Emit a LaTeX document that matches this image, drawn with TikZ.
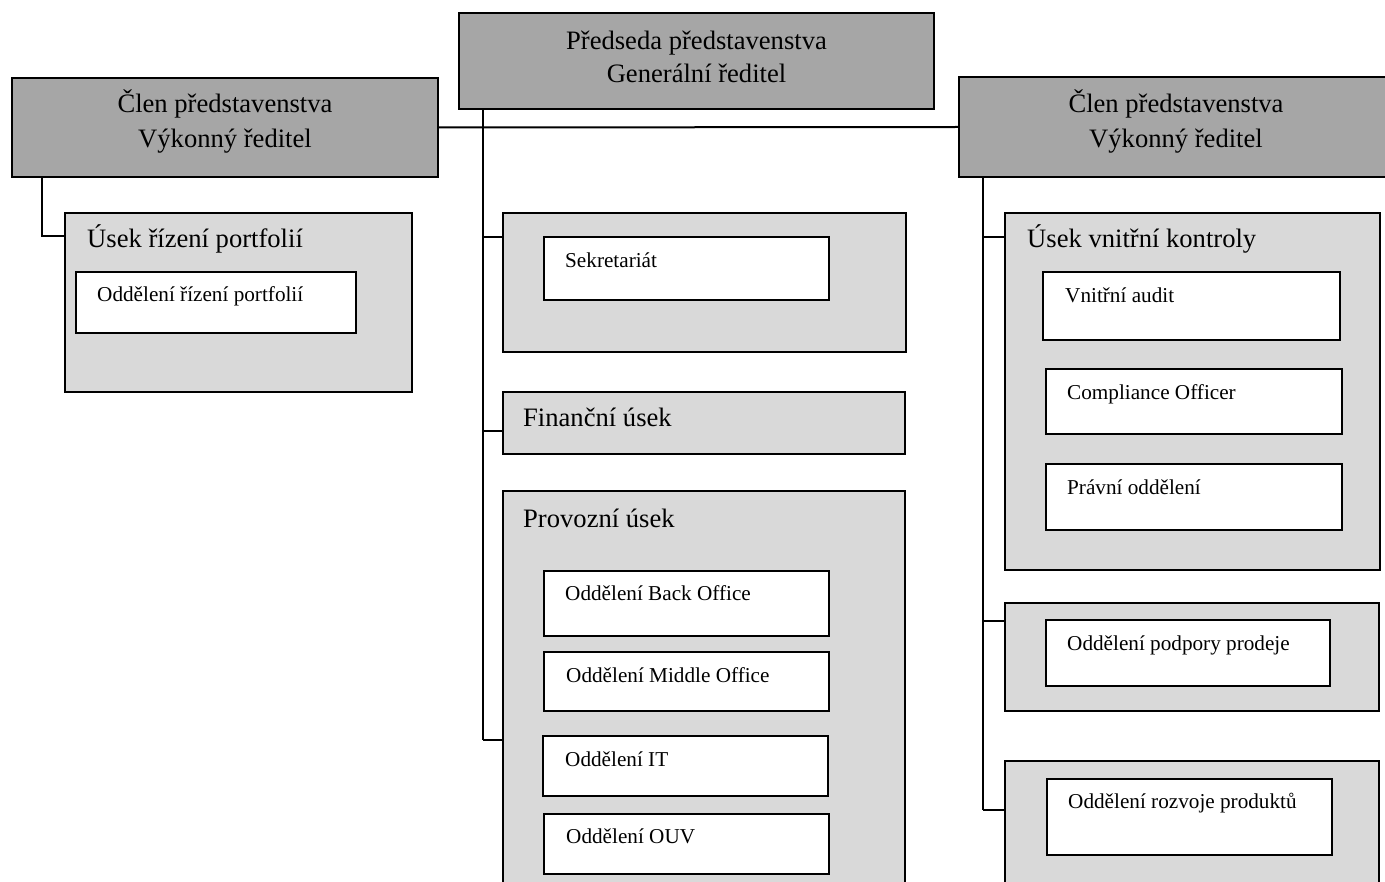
\documentclass[tikz,border=0pt]{standalone}
\usepackage{fontspec}
\setmainfont{Liberation Serif}
\definecolor{darkfill}{HTML}{A6A6A6}
\definecolor{lightfill}{HTML}{D9D9D9}
\tikzset{
  bx/.style={draw=black, line width=2pt, inner sep=0pt, outer sep=0pt, anchor=north west},
  darkbox/.style={bx, fill=darkfill},
  lightbox/.style={bx, fill=lightfill},
  whitebox/.style={bx, fill=white},
  bigtxt/.style={inner sep=0pt, font=\fontsize{26.6}{30}\selectfont},
  smalltxt/.style={inner sep=0pt, anchor=base west, font=\fontsize{21.2}{25}\selectfont},
  conn/.style={draw=black, line width=2pt}
}
\newcommand{\mybox}[6]{%
  \node[#6, minimum width=#4pt-#2pt, minimum height=#5pt-#3pt] (#1) at (#2pt,-#3pt) {};}
\begin{document}
\begin{tikzpicture}[x=1pt,y=1pt]
\useasboundingbox (0,0) rectangle (1385,-882);
\clip (0,0) rectangle (1385,-882);
\fill[white] (0,0) rectangle (1385,-882);

% top level boxes
\mybox{ceo}{459}{13}{934}{109}{darkbox}
\mybox{lexec}{12}{78}{438}{177}{darkbox}
\mybox{rexec}{959}{77}{1392}{177}{darkbox}

% left branch
\mybox{lport}{65}{213}{412}{392}{lightbox}
\mybox{lportd}{76}{272}{356}{333}{whitebox}

% centre branch
\mybox{sek}{503}{213}{906}{352}{lightbox}
\mybox{sekin}{544}{237}{829}{300}{whitebox}
\mybox{fin}{503}{392}{905}{454}{lightbox}
\mybox{prov}{503}{491}{905}{900}{lightbox}
\mybox{bo}{544}{571}{829}{636}{whitebox}
\mybox{mo}{544}{652}{829}{711}{whitebox}
\mybox{it}{543}{736}{828}{796}{whitebox}
\mybox{ouv}{544}{814}{829}{874}{whitebox}

% right branch
\mybox{kon}{1005}{213}{1380}{570}{lightbox}
\mybox{aud}{1043}{272}{1340}{340}{whitebox}
\mybox{comp}{1046}{369}{1342}{434}{whitebox}
\mybox{pra}{1046}{464}{1342}{530}{whitebox}
\mybox{pod}{1005}{603}{1379}{711}{lightbox}
\mybox{podin}{1046}{620}{1330}{686}{whitebox}
\mybox{roz}{1005}{761}{1379}{900}{lightbox}
\mybox{rozin}{1047}{779}{1332}{855}{whitebox}

% texts
\node[bigtxt, anchor=base] (ceoA) at (696.5,-50) {Předseda představenstva};
\node[bigtxt, anchor=base] (ceoB) at (696.5,-83) {Generální ředitel};
\node[bigtxt, anchor=base] (lexA) at (225,-113) {Člen představenstva};
\node[bigtxt, anchor=base] (lexB) at (225,-148) {Výkonný ředitel};
\node[bigtxt, anchor=base] (rexA) at (1176,-113) {Člen představenstva};
\node[bigtxt, anchor=base] (rexB) at (1176,-148) {Výkonný ředitel};

\node[bigtxt, anchor=base west] (lportT) at (87,-248) {Úsek řízení portfolií};
\node[bigtxt, anchor=base west] (finT) at (523,-427) {Finanční úsek};
\node[bigtxt, anchor=base west] (provT) at (523,-527) {Provozní úsek};
\node[bigtxt, anchor=base west] (konT) at (1027,-248) {Úsek vnitřní kontroly};

\node[smalltxt] (lportdT) at (97,-302) {Oddělení řízení portfolií};
\node[smalltxt] (sekT) at (565,-268) {Sekretariát};
\node[smalltxt] (boT) at (565,-600) {Oddělení Back Office};
\node[smalltxt] (moT) at (566,-682) {Oddělení Middle Office};
\node[smalltxt] (itT) at (565,-766) {Oddělení IT};
\node[smalltxt] (ouvT) at (566,-843) {Oddělení OUV};
\node[smalltxt] (audT) at (1065,-303) {Vnitřní audit};
\node[smalltxt] (compT) at (1067,-400) {Compliance Officer};
\node[smalltxt] (praT) at (1067,-495) {Právní oddělení};
\node[smalltxt] (podT) at (1067,-650) {Oddělení podpory prodeje};
\node[smalltxt] (rozT) at (1068,-808) {Oddělení rozvoje produktů};

% connector coordinates
\coordinate (cx) at (483,0);
\coordinate (lx) at (42,0);
\coordinate (rx) at (983,0);

% horizontal board line
\draw[conn] (lexec.east) -- (rexec.west);

% centre trunk
\draw[conn] (cx |- ceo.south) -- (cx |- 0,-740);
\draw[conn] (cx |- 0,-237) -- (sek.west |- 0,-237);
\draw[conn] (cx |- 0,-431) -- (fin.west |- 0,-431);
\draw[conn] (cx |- 0,-740) -- (prov.west |- 0,-740);

% left trunk
\draw[conn] (lx |- lexec.south) -- (lx |- 0,-236) -- (lport.west |- 0,-236);

% right trunk
\draw[conn] (rx |- rexec.south) -- (rx |- 0,-810);
\draw[conn] (rx |- 0,-237) -- (kon.west |- 0,-237);
\draw[conn] (rx |- 0,-621) -- (pod.west |- 0,-621);
\draw[conn] (rx |- 0,-810) -- (roz.west |- 0,-810);
\end{tikzpicture}
\end{document}
